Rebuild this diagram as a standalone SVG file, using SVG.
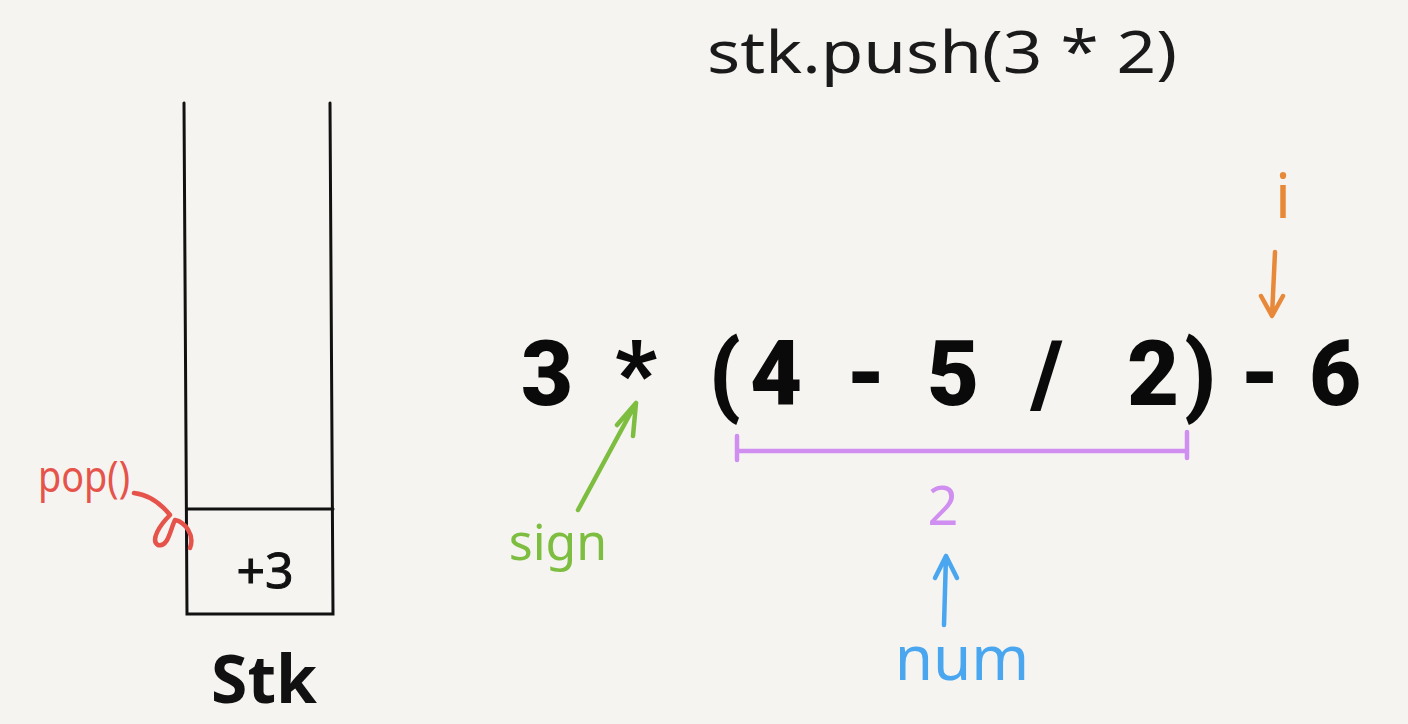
<svg xmlns="http://www.w3.org/2000/svg" width="1408" height="724" viewBox="0 0 1408 724">
<defs>
<style>
.ln{fill:none;stroke:#111;stroke-width:3;stroke-linecap:round}
.expr{font-family:Roboto,"Liberation Sans",sans-serif;font-weight:900;font-size:90px;fill:#0a0a0a;text-anchor:middle}
.hand{font-family:"Noto Sans","DejaVu Sans",sans-serif;text-anchor:middle}
.pen{fill:none;stroke-width:4.5;stroke-linecap:round;stroke-linejoin:round}
</style>
</defs>
<rect width="1408" height="724" fill="#f5f4f1"/>
<g id="title"><text x="707" y="73" font-family="Noto Sans, Open Sans, sans-serif" font-size="58" fill="#1a1a1a" textLength="470" lengthAdjust="spacingAndGlyphs">stk.push(3 * 2)</text></g>
<g id="stack">
<path class="ln" d="M184 103 L187 614 L333 614 L330 103"/>
<path class="ln" d="M187 509 L333 509"/>
<text class="hand" x="265" y="588" font-size="50" fill="#111" stroke="#111" stroke-width="1">+3</text>
<text class="hand" x="264" y="703" font-size="66" font-weight="bold" fill="#111">Stk</text>
</g>
<g id="pop">
<text class="hand" x="84" y="492" font-size="44" fill="#e5534b" textLength="92" lengthAdjust="spacingAndGlyphs">pop()</text>
</g>
<g id="expression">
<text class="expr" x="547" y="405">3</text>
<text class="expr" x="636" y="405">*</text>
<text class="expr" x="725" y="405">(</text>
<text class="expr" x="776" y="405">4</text>
<text class="expr" x="866" y="405">-</text>
<text class="expr" x="953" y="405">5</text>
<text class="expr" x="1047" y="405">/</text>
<text class="expr" x="1153" y="405">2</text>
<text class="expr" x="1200" y="405">)</text>
<text class="expr" x="1260" y="405">-</text>
<text class="expr" x="1335" y="405">6</text>
</g>
<g id="sign"><text class="hand" x="558" y="560" font-size="50" fill="#7dbd3f">sign</text></g>
<g id="num"><text class="hand" x="962" y="680" font-size="62" fill="#4aa6ef">num</text></g>
<g id="result"><text class="hand" x="943" y="525" font-size="54" fill="#cf8ef0">2</text></g>
<g id="i"><text class="hand" x="1283" y="218" font-size="62" fill="#e8893a">i</text></g>
<g id="connectors">
<path class="pen" stroke="#e5534b" d="M134 493 C150 495 162 505 170 515 C160 525 150 540 158 545 C168 548 170 530 175 520 C185 522 195 535 190 548"/>
<path class="pen" stroke="#7dbd3f" d="M578 510 L636 403 M617 425 L636 403 L633 436"/>
<path class="pen" stroke="#cf8ef0" d="M737 451 L1187 451 M737 436 L737 460 M1187 432 L1187 458"/>
<path class="pen" stroke="#4aa6ef" d="M944 625 L946 556 M935 578 L946 556 L957 578"/>
<path class="pen" stroke="#e8893a" d="M1275 252 L1272 316 M1261 296 L1272 316 L1283 296"/>
</g>
</svg>
